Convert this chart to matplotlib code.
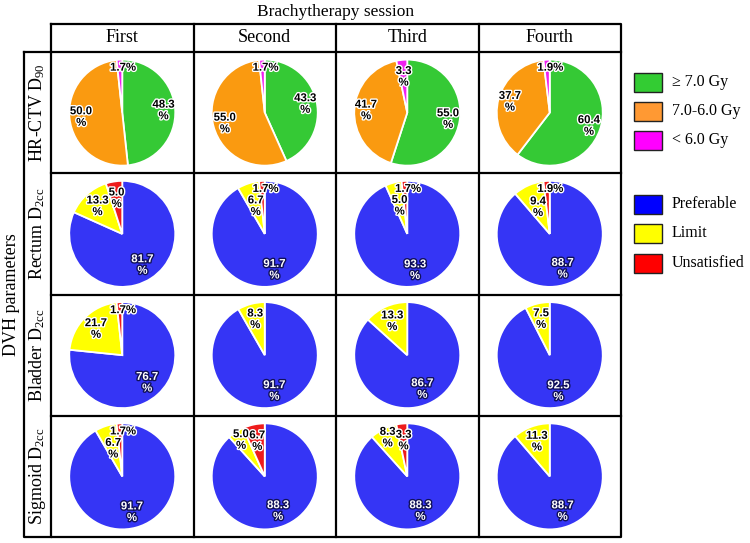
import numpy as np
import matplotlib
matplotlib.use("Agg")
import matplotlib.pyplot as plt
import matplotlib.patheffects as pe
from matplotlib.patches import Rectangle

plt.rcParams['mathtext.fontset'] = 'custom'
plt.rcParams['mathtext.rm'] = 'Liberation Serif'
plt.rcParams['mathtext.it'] = 'Liberation Serif:italic'

sessions = ["First", "Second", "Third", "Fourth"]
params = ["HR-CTV D$_{\\mathrm{90}}$", "Rectum D$_{\\mathrm{2cc}}$",
          "Bladder D$_{\\mathrm{2cc}}$", "Sigmoid D$_{\\mathrm{2cc}}$"]

ctv_labels = ["\u2265 7.0 Gy", "7.0-6.0 Gy", "< 6.0 Gy"]
oar_labels = ["Preferable", "Limit", "Unsatisfied"]

# HR-CTV D90: [>=7.0, 7.0-6.0, <6.0]
hrctv = [[48.3, 50.0, 1.7], [43.3, 55.0, 1.7], [55.0, 41.7, 3.3], [60.4, 37.7, 1.9]]
# OARs: [Preferable, Limit, Unsatisfied]
rectum = [[81.7, 13.3, 5.0], [91.7, 6.7, 1.7], [93.3, 5.0, 1.7], [88.7, 9.4, 1.9]]
bladder = [[76.7, 21.7, 1.7], [91.7, 8.3, 0.0], [86.7, 13.3, 0.0], [92.5, 7.5, 0.0]]
sigmoid = [[91.7, 6.7, 1.7], [88.3, 5.0, 6.7], [88.3, 8.3, 3.3], [88.7, 11.3, 0.0]]

ctv_colors = ["#35c935", "#fa9a10", "#f020f0"]
oar_colors = ["#3535f5", "#ffff00", "#ee1c1c"]
ctv_legend_colors = ["#33cc33", "#ff9933", "#ff00ff"]
oar_legend_colors = ["#0000ff", "#ffff00", "#ff0000"]

rows = [(hrctv, ctv_colors), (rectum, oar_colors), (bladder, oar_colors), (sigmoid, oar_colors)]

W, H = 750, 543
fig = plt.figure(figsize=(W / 100, H / 100), dpi=100)
ov = fig.add_axes([0, 0, 1, 1])
ov.set_xlim(0, W)
ov.set_ylim(H, 0)
ov.axis('off')

serif = 'Liberation Serif'
col_x = np.linspace(51, 621, 5)
row_y = np.linspace(52, 537, 5)
lw = 1.6

# grid
ov.plot([51, 621, 621, 51, 51], [24, 24, 537, 537, 24], color='black', lw=lw, zorder=5)
ov.plot([24, 51], [52, 52], color='black', lw=lw, zorder=5)
ov.plot([24, 24, 51], [52, 537, 537], color='black', lw=lw, zorder=5)
for x in col_x[1:-1]:
    ov.plot([x, x], [24, 537], color='black', lw=lw, zorder=5)
for y in row_y[:-1]:
    ov.plot([51, 621], [y, y], color='black', lw=lw, zorder=5)

ov.text((col_x[0] + col_x[-1]) / 2, 12, "Brachytherapy session", ha='center', va='center',
        fontsize=12.5, family=serif)
for i, s in enumerate(sessions):
    ov.text((col_x[i] + col_x[i + 1]) / 2, 38, s, ha='center', va='center', fontsize=13, family=serif)
ov.text(12, (row_y[0] + row_y[-1]) / 2, "DVH parameters", ha='center', va='center', rotation=90,
        fontsize=13, family=serif)
for j, p in enumerate(params):
    ov.text(37.5, (row_y[j] + row_y[j + 1]) / 2, p, ha='center', va='center', rotation=90,
            fontsize=13, family=serif)

# legends
def legend_block(labels, colors, ys):
    for lab, c, y in zip(labels, colors, ys):
        ov.add_patch(Rectangle((634, y - 9.5), 28, 19, facecolor=c, edgecolor='#222222', lw=1))
        ov.text(672, y, lab, ha='left', va='center', fontsize=11.5, family=serif)

legend_block(ctv_labels, ctv_legend_colors, [82, 111, 140])
legend_block(oar_labels, oar_legend_colors, [204, 233, 263])

label_font = ['Liberation Sans', 'DejaVu Sans']
R = 53.0
for j, (data, colors) in enumerate(rows):
    for i in range(4):
        vals = data[i]
        cx = (col_x[i] + col_x[i + 1]) / 2
        cy = (row_y[j] + row_y[j + 1]) / 2
        half = 60
        ax = fig.add_axes([(cx - half) / W, 1 - (cy + half) / H, 2 * half / W, 2 * half / H])
        keep = [k for k, v in enumerate(vals) if v > 0]
        v_kept = [vals[k] for k in keep]
        c_kept = [colors[k] for k in keep]
        wedges, _ = ax.pie(v_kept, colors=c_kept, startangle=90, counterclock=False,
                           wedgeprops=dict(edgecolor='white', linewidth=1.3))
        lim = half / R
        ax.set_xlim(-lim, lim)
        ax.set_ylim(-lim, lim)
        ax.set_aspect('equal')
        ax.axis('off')
        small_red = j > 0 and 0 < vals[2] < 2
        big_red = j > 0 and vals[2] >= 2
        for w, k, v in zip(wedges, keep, v_kept):
            ang = np.deg2rad((w.theta1 + w.theta2) / 2)
            dx = 0.0
            if v < 2:
                d, txt = 0.85, f"{v:.1f}%"
                dx = 0.06
            else:
                if j == 0:
                    d = 0.78 if k < 2 else 0.68
                elif k == 1:
                    if small_red and v < 12:
                        d = 0.55
                    elif big_red and v < 12:
                        d = 0.82
                    else:
                        d = 0.7
                elif k == 2:
                    d = 0.68
                else:
                    d = 0.7
                txt = f"{v:.1f}\n%"
            if colors[k] == oar_colors[0]:
                fc, sc = 'white', '#10105a'
            else:
                fc, sc = 'black', 'white'
            ax.text(d * np.cos(ang) + dx, d * np.sin(ang), txt, ha='center', va='center',
                    fontsize=8.2, fontweight='bold', family=label_font, color=fc,
                    linespacing=1.2,
                    path_effects=[pe.withStroke(linewidth=2, foreground=sc)])

fig.savefig("out.png", dpi=100)
